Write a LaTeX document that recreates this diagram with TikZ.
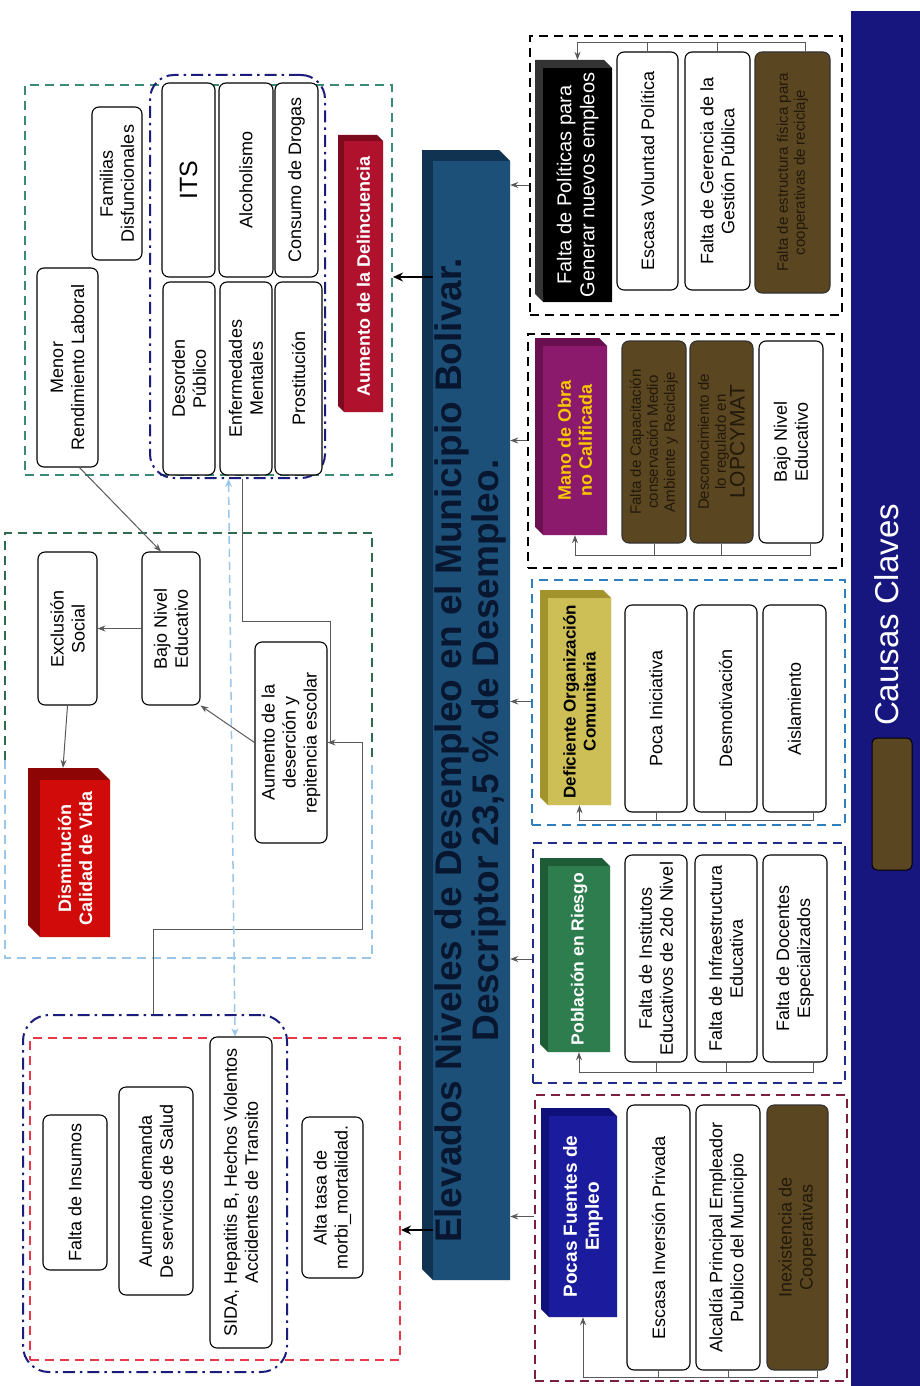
\documentclass[tikz,border=0pt]{standalone}
\usepackage{fontspec}
\setmainfont{Liberation Sans}
\usetikzlibrary{arrows.meta}
\definecolor{navyp}{HTML}{16167E}
\definecolor{brownc}{HTML}{5A4620}
\definecolor{browntx}{HTML}{22190A}
\definecolor{mainf}{HTML}{1C5079}
\definecolor{mains}{HTML}{0F3350}
\definecolor{maintx}{HTML}{08162F}
\definecolor{purp}{HTML}{8C1A6C}
\definecolor{purps}{HTML}{6A1050}
\definecolor{olive}{HTML}{CDBE55}
\definecolor{olives}{HTML}{A3932C}
\definecolor{pgreen}{HTML}{2E7D4E}
\definecolor{pgreens}{HTML}{1E5C37}
\definecolor{pblue}{HTML}{1B1B9E}
\definecolor{pblues}{HTML}{10107A}
\definecolor{crim}{HTML}{B0122E}
\definecolor{crims}{HTML}{7E0A1E}
\definecolor{bred}{HTML}{D10A0A}
\definecolor{breds}{HTML}{8E0505}
\definecolor{dblue}{HTML}{2F7FBF}
\definecolor{dnavy}{HTML}{1F2C8A}
\definecolor{dmaroon}{HTML}{7A1F3D}
\definecolor{dteal}{HTML}{3A8A78}
\definecolor{dgreen}{HTML}{2E6B4F}
\definecolor{lblue}{HTML}{9CC6E8}
\definecolor{dred}{HTML}{E8384A}
\definecolor{ddot}{HTML}{1C1C7A}
\definecolor{yel}{HTML}{F5C800}

\newcommand{\extru}[6]{\fill[#6] (#1,#2) -- ({#3-#5},#2) -- (#3,{#2+#5}) -- (#3,#4) -- ({#1+#5},#4) -- (#1,{#4-#5}) -- cycle;}

\tikzset{
 wbox/.style={draw=black, line width=1.1pt, rounded corners=7pt, fill=white, rotate=90, align=center, inner sep=1pt, font=\fontsize{18}{21}\selectfont},
 bbox/.style={draw=black!80, line width=1.1pt, rounded corners=7pt, fill=brownc, text=browntx, rotate=90, align=center, inner sep=1pt, font=\fontsize{15}{17}\selectfont},
 face/.style={rotate=90, align=center, inner sep=1pt, font=\bfseries\fontsize{18}{21}\selectfont},
 dbox/.style={line width=2.2pt, dash pattern=on 9pt off 6pt},
 ddbox/.style={draw=ddot, line width=2pt, dash pattern=on 12pt off 5pt on 2.5pt off 5pt, rounded corners=24pt},
 gline/.style={draw=black!65, line width=1pt},
 garrow/.style={gline, -{Stealth[length=8pt,width=6pt]}},
 barrow/.style={draw=black, line width=2pt, -{Stealth[length=10pt,width=9pt]}},
}

\begin{document}
\begin{tikzpicture}[x=1pt,y=-1pt]
\useasboundingbox (0,0) rectangle (920,1386);
\fill[white] (0,0) rectangle (920,1386);

% legend panel
\fill[navyp] (851,11) rectangle (920,1386);
\node[rotate=90, text=white, font=\fontsize{33}{36}\selectfont] (legtxt) at (887,615) {Causas Claves};
\node[rotate=90, draw=black, line width=1pt, fill=brownc, rounded corners=5pt, minimum width=132pt, minimum height=40pt] (legbox) at (892,804) {};

% main box
\extru{422}{150}{510}{1280}{11}{mains}
\node[face, fill=mainf, text=maintx, minimum width=1119pt, minimum height=77pt, font=\bfseries\fontsize{37}{35}\selectfont] (main) at (471.5,720.5) {\begin{tabular}{@{}c@{}}Elevados Niveles de Desempleo en el Municipio Bolivar.\\Descriptor 23,5 \% de Desempleo.\end{tabular}\hspace*{60pt}};

% ---------- group 1
\node[draw=black, dbox, minimum width=312pt, minimum height=279pt] (g1) at (686,175.5) {};
\extru{535}{60}{612}{302}{8}{black!80}
\node[face, fill=black, text=white, font=\fontsize{20}{23}\selectfont, minimum width=234pt, minimum height=69pt] (h1) at (577.5,185) {Falta de Políticas para\\Generar nuevos empleos};
\node[wbox, minimum width=238pt, minimum height=61pt] (c11) at (647.5,171) {Escasa Voluntad Política};
\node[wbox, minimum width=238pt, minimum height=65pt] (c12) at (717.5,171) {Falta de Gerencia de la\\Gestión Pública};
\node[bbox, minimum width=241pt, minimum height=75pt] (c13) at (792.5,172.5) {Falta de estructura física para\\cooperativas de reciclaje};
\draw[gline] (c11.east) -- (c11.east |- 0,43);
\draw[gline] (c12.east) -- (c12.east |- 0,43);
\draw[garrow] ([xshift=13pt]c13.east) |- (h1.east |- 0,43) -- ([yshift=8pt]h1.east);
\draw[garrow] (g1.west |- h1) -- (main.south |- h1);

% ---------- group 2
\node[draw=black, dbox, minimum width=314pt, minimum height=234pt] (g2) at (685,451) {};
\extru{535}{338}{607}{535}{8}{purps}
\node[face, fill=purp, text=yel, minimum width=189pt, minimum height=64pt] (h2) at (575,440.5) {Mano de Obra\\no Calificada};
\node[bbox, minimum width=202pt, minimum height=64pt] (c21) at (654,442) {Falta de Capacitación\\conservación Medio\\Ambiente y Reciclaje};
\node[bbox, minimum width=202pt, minimum height=63pt] (c22) at (721.5,442) {Desconocimiento de\\lo regulado en\\{\fontsize{21}{22}\selectfont LOPCYMAT}};
\node[wbox, minimum width=202pt, minimum height=64pt] (c23) at (791,442) {Bajo Nivel\\Educativo};
\draw[gline] (c21.west) -- (c21.west |- 0,555);
\draw[gline] (c22.west) -- (c22.west |- 0,555);
\draw[garrow] ([xshift=19pt]c23.west) |- (h2.west |- 0,555) -- (h2.west);
\draw[garrow] (g2.west |- h2) -- (main.south |- h2);

% ---------- group 3
\node[draw=dblue, dbox, minimum width=313pt, minimum height=245pt] (g3) at (688.5,702.5) {};
\extru{540}{590}{611}{805}{8}{olives}
\node[face, fill=olive, text=black, font=\bfseries\fontsize{17}{20}\selectfont, minimum width=207pt, minimum height=63pt] (h3) at (579.5,701.5) {Deficiente Organización\\Comunitaria};
\node[wbox, minimum width=207pt, minimum height=62pt] (c31) at (656,708.5) {Poca Iniciativa};
\node[wbox, minimum width=207pt, minimum height=63pt] (c32) at (725.5,708.5) {Desmotivación};
\node[wbox, minimum width=207pt, minimum height=63pt] (c33) at (794.5,708.5) {Aislamiento};
\draw[gline] (c31.west) -- (c31.west |- 0,820);
\draw[gline] (c32.west) -- (c32.west |- 0,820);
\draw[garrow] ([xshift=18.5pt]c33.west) |- (h3.west |- 0,820) -- (h3.west);
\draw[garrow] (g3.west |- h3) -- (main.south |- h3);

% ---------- group 4
\node[draw=dnavy, dbox, minimum width=312pt, minimum height=240pt] (g4) at (689,963) {};
\extru{540}{858}{610}{1052}{8}{pgreens}
\node[face, fill=pgreen, text=white, font=\bfseries\fontsize{17.5}{20}\selectfont, minimum width=186pt, minimum height=62pt] (h4) at (579,959) {Población en Riesgo};
\node[wbox, minimum width=207pt, minimum height=62pt] (c41) at (656,958.5) {Falta de Institutos\\Educativos de 2do Nivel};
\node[wbox, minimum width=207pt, minimum height=62pt] (c42) at (726,958.5) {Falta de Infraestructura\\Educativa};
\node[wbox, minimum width=207pt, minimum height=64pt] (c43) at (795,958.5) {Falta de Docentes\\Especializados};
\draw[gline] (c41.west) -- (c41.west |- 0,1072);
\draw[gline] (c42.west) -- (c42.west |- 0,1072);
\draw[garrow] ([xshift=18pt]c43.west) |- (h4.west |- 0,1072) -- (h4.west);
\draw[garrow] (g4.west |- h4) -- (main.south |- h4);

% ---------- group 5
\node[draw=dmaroon, dbox, minimum width=312pt, minimum height=286pt] (g5) at (691,1238) {};
\extru{541}{1108}{617}{1317}{8}{pblues}
\node[face, fill=pblue, text=white, font=\bfseries\fontsize{19}{22}\selectfont, minimum width=201pt, minimum height=68pt] (h5) at (583,1216.5) {Pocas Fuentes de\\Empleo};
\node[wbox, minimum width=265pt, minimum height=63pt] (c51) at (658.5,1237.5) {Escasa Inversión Privada};
\node[wbox, minimum width=265pt, minimum height=64pt] (c52) at (728,1237.5) {Alcaldía Principal Empleador\\Publico del Municipio};
\node[bbox, font=\fontsize{18}{21}\selectfont, minimum width=265pt, minimum height=61pt] (c53) at (797.5,1237.5) {Inexistencia de\\Cooperativas};
\draw[gline] (c51.west) -- (c51.west |- 0,1377);
\draw[gline] (c52.west) -- (c52.west |- 0,1377);
\draw[garrow] ([xshift=19.5pt]c53.west) |- (h5.west |- 0,1377) -- (h5.west);
\draw[garrow] (g5.west |- h5) -- (main.south |- h5);

% ---------- top-left group
\node[draw=dteal, dbox, line width=2pt, minimum width=367pt, minimum height=390pt] (gA) at (208.5,280) {};
\node[ddbox, minimum width=175pt, minimum height=403pt] (nA) at (237.5,276.5) {};
\node[wbox, font=\fontsize{25}{28}\selectfont, minimum width=194pt, minimum height=53pt] (its) at (188.5,180) {ITS};
\node[wbox, minimum width=194pt, minimum height=54pt] (alco) at (246,180) {Alcoholismo};
\node[wbox, minimum width=194pt, minimum height=43pt] (drog) at (296.5,180) {Consumo de Drogas};
\node[wbox, minimum width=193pt, minimum height=52pt] (deso) at (189,378.5) {Desorden\\Público};
\node[wbox, minimum width=193pt, minimum height=52pt] (enfe) at (246,378.5) {Enfermedades\\Mentales};
\node[wbox, minimum width=193pt, minimum height=47pt] (pros) at (298.5,378.5) {Prostitución};
\node[wbox, minimum width=153pt, minimum height=50pt] (fami) at (117,183.5) {Familias\\Disfuncionales};
\node[wbox, minimum width=199pt, minimum height=61pt] (meno) at (67.5,367.5) {Menor\\Rendimiento Laboral};
\extru{338}{135}{383}{412}{6}{crims}
\node[face, fill=crim, text=white, minimum width=271pt, minimum height=39pt] (deli) at (363.5,276.5) {Aumento de la Delincuencia};

% ---------- middle group
\node[minimum width=367pt, minimum height=425pt] (gB) at (188.5,745.5) {};
\draw[draw=dgreen, dbox, line width=2pt] (gB.south west |- 0,760) -- (gB.north west) -- (gB.north east) -- (gB.south east |- 0,760);
\draw[draw=lblue, line width=1.5pt, dash pattern=on 9pt off 6pt] (gB.south west |- 0,760) -- (gB.south west) -- (gB.south east) -- (gB.south east |- 0,760);
\node[wbox, minimum width=153pt, minimum height=59pt] (excl) at (67.5,628.5) {Exclusión\\Social};
\node[wbox, minimum width=153pt, minimum height=58pt] (bajo) at (171,628.5) {Bajo Nivel\\Educativo};
\node[wbox, minimum width=201pt, minimum height=72pt] (deser) at (291,742.5) {Aumento de la\\deserción y\\repitencia escolar};
\extru{28}{768}{110}{937}{12}{breds}
\node[face, fill=bred, text=white, minimum width=157pt, minimum height=70pt] (dism) at (75,858.5) {Disminución\\Calidad de Vida};

% ---------- bottom-left group
\node[ddbox, rounded corners=26pt, minimum width=264pt, minimum height=357pt] (nC) at (155,1193.5) {};
\node[draw=dred, dbox, line width=2pt, minimum width=370pt, minimum height=322pt] (gC) at (215,1199) {};
\node[wbox, minimum width=155pt, minimum height=64pt] (insu) at (75,1192.5) {Falta de Insumos};
\node[wbox, minimum width=208pt, minimum height=74pt] (dema) at (156,1191) {Aumento demanda\\De servicios de Salud};
\node[wbox, minimum width=311pt, minimum height=62pt] (sida) at (241,1192.5) {SIDA, Hepatitis B, Hechos Violentos\\Accidentes de Transito};
\node[wbox, minimum width=161pt, minimum height=61pt] (morb) at (332.5,1197.5) {Alta tasa de\\morbi\_mortalidad.};

% ---------- connectors left side
\draw[garrow] ([xshift=12pt]meno.west) -- ([xshift=-10pt]bajo.east);
\draw[garrow] (bajo.north) -- (excl.south);
\draw[garrow] (excl.west) -- ([xshift=-12pt,yshift=12pt]dism.east);
\draw[garrow] (deser.north) -- (bajo.south west);
\draw[gline] ([xshift=5pt]nA.south) -- ++(0,142) -| ([xshift=3pt]deser.south);
\draw[garrow] ([xshift=-2pt]nC.north) -- ++(0,-85) -| ([xshift=35pt]deser.south) -- (deser.south);
\draw[draw=lblue, line width=1.5pt, dash pattern=on 8pt off 5pt, {Stealth[length=8pt,width=7pt]}-{Stealth[length=8pt,width=7pt]}] ([xshift=-9pt]nA.south) -- ([xshift=-6pt]sida.east);

\draw[barrow] (main.north |- 0,277) -- (gA.east |- 0,277);
\draw[barrow] (main.north |- 0,1230) -- (gC.east |- 0,1230);
\end{tikzpicture}
\end{document}
